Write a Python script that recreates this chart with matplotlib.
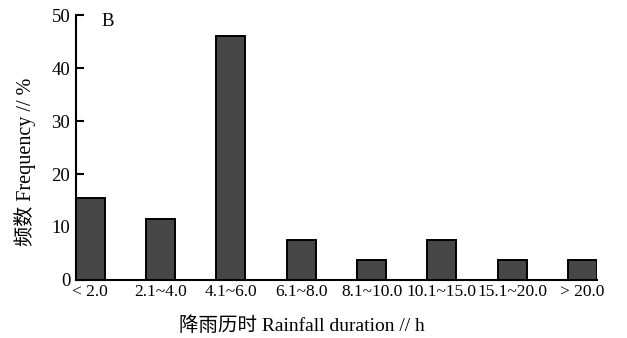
import matplotlib
matplotlib.use("Agg")
import matplotlib.pyplot as plt
import numpy as np

# rainfall duration classes and their frequency (%)
durations = ["< 2.0", "2.1~4.0", "4.1~6.0", "6.1~8.0",
             "8.1~10.0", "10.1~15.0", "15.1~20.0", "> 20.0"]
frequency = [15.5, 11.5, 46.0, 7.5, 3.8, 7.5, 3.8, 3.8]
y_ticks = [0, 10, 20, 30, 40, 50]

plt.rcParams["font.family"] = ["Liberation Serif", "Noto Sans CJK SC",
                               "DejaVu Sans"]

fig = plt.figure(figsize=(6.27, 3.38), dpi=100)
ax = fig.add_axes([0.121, 0.172, 0.831, 0.783])

x = np.arange(len(durations))
ax.bar(x, frequency, width=0.41, color="#474747", edgecolor="black",
       linewidth=1.4, zorder=3)

ax.set_xlim(-0.205, len(durations) - 1 + 0.205)
ax.set_ylim(0, 50)
ax.set_yticks(y_ticks)
ax.set_xticks(x)
ax.set_xticklabels(durations)

# only left and bottom axes, y ticks pointing inwards
for side in ["top", "right"]:
    ax.spines[side].set_visible(False)
for side in ["left", "bottom"]:
    ax.spines[side].set_linewidth(1.5)
ax.tick_params(axis="y", direction="in", length=6, width=1.5,
               labelsize=13.5, pad=4)
ax.tick_params(axis="x", length=0, labelsize=12.5, pad=3)

ax.text(0.05, 0.975, "B", transform=ax.transAxes, fontsize=13.5,
        ha="left", va="center")

ax.set_ylabel("频数 Frequency // %", fontsize=14.5, va="center")
ax.yaxis.set_label_coords(-0.098, 0.446)
ax.set_xlabel("降雨历时 Rainfall duration // h", fontsize=14, va="center")
ax.xaxis.set_label_coords(0.434, -0.174)

fig.savefig("out.png", dpi=100)
